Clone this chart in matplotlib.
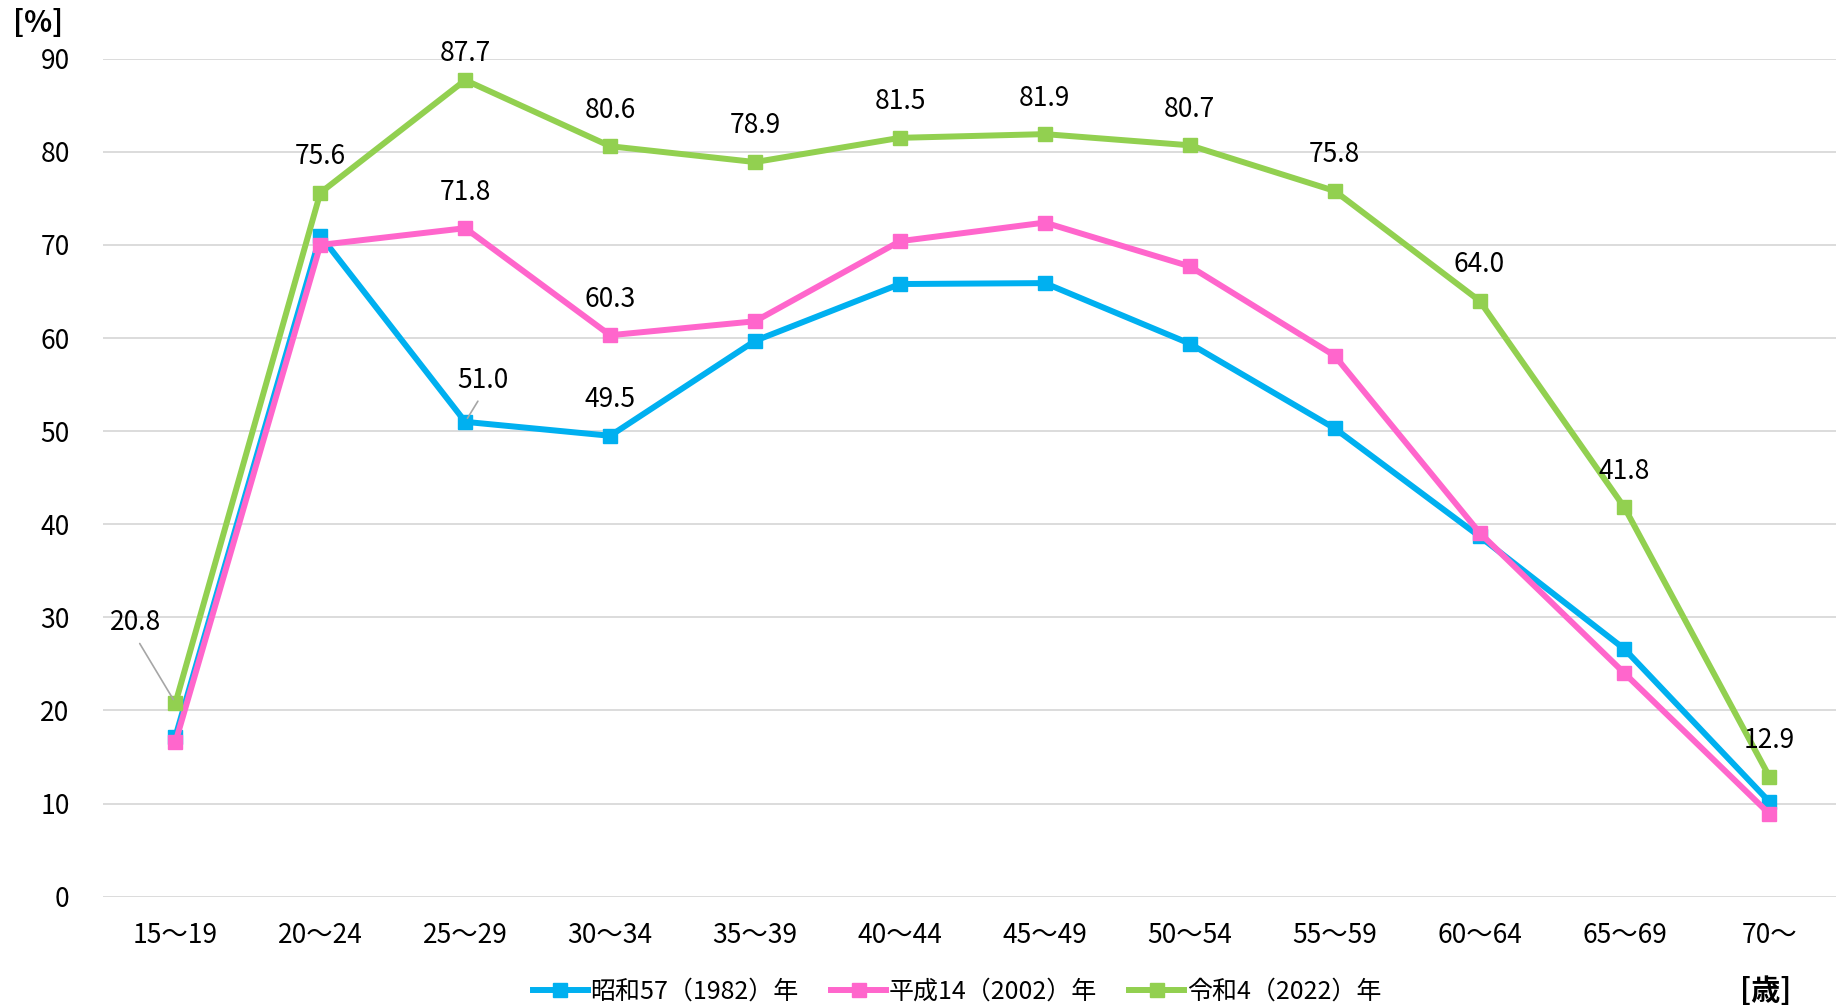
import matplotlib
matplotlib.use('Agg')
import matplotlib.pyplot as plt
import numpy as np

plt.rcParams['font.family'] = ['Noto Sans CJK JP', 'DejaVu Sans']

# data
ages = ['15～19', '20～24', '25～29', '30～34', '35～39', '40～44',
        '45～49', '50～54', '55～59', '60～64', '65～69', '70～']
s1982 = [17.2, 71.0, 51.0, 49.5, 59.7, 65.8, 65.9, 59.4, 50.3, 38.7, 26.6, 10.2]
s2002 = [16.6, 70.0, 71.8, 60.3, 61.8, 70.4, 72.4, 67.7, 58.1, 39.1, 24.0, 8.9]
s2022 = [20.8, 75.6, 87.7, 80.6, 78.9, 81.5, 81.9, 80.7, 75.8, 64.0, 41.8, 12.9]
names = ['昭和57（1982）年', '平成14（2002）年', '令和4（2022）年']
colors = ['#00B0F0', '#FF66CC', '#92D050']

fig = plt.figure(figsize=(18.36, 10.06), dpi=100)
ax = fig.add_axes([103 / 1836, 1 - 896.7 / 1006, 1 - 103 / 1836, (896.7 - 58.7) / 1006])

x = np.arange(len(ages))
for vals, name, c in zip([s1982, s2002, s2022], names, colors):
    ax.plot(x, vals, color=c, lw=4.3, marker='s', ms=9.5, label=name,
            solid_joinstyle='miter')

ax.set_xlim(-0.5, 11.46)
ax.set_ylim(0, 90)
ax.set_yticks(range(0, 91, 10))
ax.set_xticks(x)
ax.set_xticklabels(ages)
ax.grid(axis='y', color='#D9D9D9', lw=1.3)
ax.set_axisbelow(True)
for sp in ax.spines.values():
    sp.set_visible(False)
ax.tick_params(axis='both', length=0, labelsize=19)
ax.tick_params(axis='y', pad=24)
ax.tick_params(axis='x', pad=18)

# data labels
def label(i, v, dx=0, dy=26, leader=False):
    kw = {}
    if leader:
        kw['arrowprops'] = dict(arrowstyle='-', color='#A6A6A6', lw=1.2,
                                shrinkA=4, shrinkB=3, relpos=(0.5, 0))
    ax.annotate(f'{v:.1f}', (i, v), xytext=(dx, dy), textcoords='offset points',
                ha='center', va='center', fontsize=19, annotation_clip=False, **kw)

for i, v in enumerate(s2022):
    if i == 0:
        label(i, v, -29, 58, leader=True)
    elif i == 2:
        label(i, v, 0, 19.5)
    else:
        label(i, v)
label(2, s2002[2])
label(3, s2002[3])
label(2, s1982[2], 12.4, 30, leader=True)
label(3, s1982[3])

fig.text(13 / 1836, 1 - 23 / 1006, '[%]', fontsize=21, fontweight='bold',
         ha='left', va='center')
fig.text(1766 / 1836, 1 - 991 / 1006, '[歳]', fontsize=21, fontweight='bold',
         ha='center', va='center')

fig.legend(loc='center', bbox_to_anchor=(957 / 1836, 1 - 992 / 1006), ncol=3,
           frameon=False, fontsize=18, handlelength=2.2, handletextpad=0.1,
           columnspacing=1.3, borderpad=0, borderaxespad=0)

fig.savefig('out.png', dpi=100)
